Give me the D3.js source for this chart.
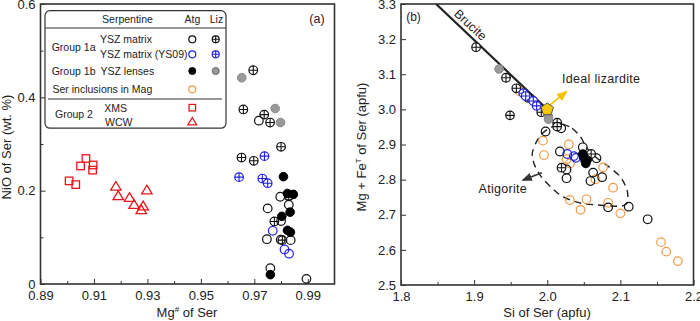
<!DOCTYPE html>
<html><head><meta charset="utf-8">
<script src="https://cdn.jsdelivr.net/npm/d3@7"></script>
<style>
body{margin:0;background:#fff;}
svg{font-family:"Liberation Sans",Arial,sans-serif;}
</style></head>
<body><svg id="c" width="700" height="321"></svg>
<script>
// ---------- Panel (a) data : [Mg#, NiO] ----------
const aAtgMatrix = [[0.9717,0.350],[0.9797,0.187],[0.9829,0.188],[0.9829,0.170],[0.9750,0.162],[0.9800,0.135],[0.9747,0.096],[0.9799,0.095],[0.9836,0.094],[0.9760,0.034],[0.9895,0.011]];
const aAtgYS09 = [[0.9769,0.114],[0.9813,0.074],[0.9830,0.065]];
const aAtgLenses = [[0.9809,0.230],[0.9846,0.192],[0.9824,0.194],[0.9834,0.154],[0.9803,0.145],[0.9824,0.115],[0.9835,0.111],[0.9760,0.020]];
const aLizMatrix = [[0.9696,0.458],[0.9659,0.374],[0.9737,0.363],[0.9759,0.346],[0.9800,0.294],[0.9652,0.271],[0.9698,0.264],[0.9775,0.134],[0.9805,0.094],[0.9829,0.189]];
const aLizYS09 = [[0.9643,0.229],[0.9738,0.274],[0.9730,0.226],[0.9750,0.216]];
const aLizLenses = [[0.9653,0.442],[0.9778,0.376],[0.9798,0.346]];
const aXMS = [[0.9007,0.221],[0.9032,0.213],[0.9050,0.253],[0.9070,0.269],[0.9097,0.255],[0.9095,0.244]];
const aWCW = [[0.9182,0.209],[0.9191,0.189],[0.9233,0.185],[0.9250,0.170],[0.9277,0.159],[0.9284,0.167],[0.9298,0.201]];

// ---------- Panel (b) data : [Si, Mg+FeT] ----------
const bAtgMatrix = [[1.9977,2.937],[2.0191,2.946],[2.0173,2.880],[2.0486,2.892],[2.0673,2.861],[2.0264,2.829],[2.0264,2.804],[2.0627,2.820],[2.0591,2.796],[2.0750,2.807],[2.0832,2.721],[2.1114,2.723],[2.1373,2.687]];
const bAtgYS09 = [[2.0273,2.873],[2.0364,2.867],[2.0391,2.862]];
const bAtgLenses = [[2.0486,2.873],[2.0500,2.864],[2.0518,2.854],[2.0527,2.846],[2.0545,2.856]];
const bLizMatrix = [[1.9027,3.177],[1.9436,3.090],[1.9577,3.060],[1.9736,3.033],[1.9918,2.992],[1.9491,2.983],[2.0136,2.962],[2.0136,2.951],[2.0195,2.834],[2.0600,2.873]];
const bLizYS09 = [[1.9673,3.046],[1.9705,3.038],[1.9809,3.024],[1.9855,3.010]];
const bLizLenses = [[1.9341,3.115],[2.0014,2.981],[2.0018,2.972]];
const bInclMag = [[1.9618,3.052],[1.9941,2.911],[1.9955,2.870],[2.0295,2.900],[2.0309,2.846],[2.0264,2.858],[2.0764,2.835],[2.0659,2.801],[2.0900,2.777],[2.0309,2.742],[2.0536,2.744],[2.0455,2.714],[2.0832,2.734],[2.1000,2.704],[2.1555,2.622],[2.1627,2.595],[2.1786,2.568]];
const idealLizardite = [2.0, 3.0];
const bruciteLine = [[1.848,3.3],[2.0,3.0]];
const atgField = [[2.0191,2.958],[2.0341,2.946],[2.0455,2.922],[2.0545,2.889],[2.0682,2.861],[2.0841,2.837],[2.1000,2.808],[2.1091,2.771],[2.1100,2.737],[2.1023,2.725],[2.0864,2.725],[2.0682,2.728],[2.0500,2.731],[2.0341,2.740],[2.0205,2.752],[2.0068,2.775],[1.9955,2.799],[1.9886,2.818],[1.9818,2.846],[1.9795,2.875],[1.9841,2.903],[1.9909,2.927],[2.0023,2.946]];

// tick values
const aXTicksMajor = [0.89,0.91,0.93,0.95,0.97,0.99];
const aXTicksMinor = [0.90,0.92,0.94,0.96,0.98];
const aYTicksMajor = [0,0.2,0.4,0.6];
const aYTicksMinor = [0.1,0.3,0.5];
const bXTicksMajor = [1.8,1.9,2.0,2.1,2.2];
const bXTicksMinor = [1.85,1.95,2.05,2.15];
const bYTicksMajor = [2.5,2.6,2.7,2.8,2.9,3.0,3.1,3.2,3.3];

const svg = d3.select("#c");
const AX = "#333";
const C = {black:"#111", blue:"#1f1fe8", gray:"#999", orange:"#f39a45", red:"#e8161c"};
const R = 4.3;

// scales
const xA = d3.scaleLinear().domain([0.89,1.0]).range([40.5,334.5]);
const yA = d3.scaleLinear().domain([0,0.6]).range([284,4]);
const xB = d3.scaleLinear().domain([1.8,2.2]).range([401,693.5]);
const yB = d3.scaleLinear().domain([2.5,3.3]).range([285,4]);

function axes(x, y, xMaj, xMin, yMaj, yMin, xFmt, yFmt){
  const g = svg.append("g");
  const [x0,x1] = x.range(), [y0,y1] = y.range();
  g.append("g").attr("transform",`translate(0,${y0})`)
    .call(d3.axisBottom(x).tickValues(xMin).tickFormat("").tickSizeInner(-3).tickSizeOuter(0));
  g.append("g").attr("transform",`translate(0,${y0})`)
    .call(d3.axisBottom(x).tickValues(xMaj).tickFormat(xFmt).tickSizeInner(-5).tickSizeOuter(0).tickPadding(7));
  if (yMin.length) g.append("g").attr("transform",`translate(${x0},0)`)
    .call(d3.axisLeft(y).tickValues(yMin).tickFormat("").tickSizeInner(-3).tickSizeOuter(0));
  g.append("g").attr("transform",`translate(${x0},0)`)
    .call(d3.axisLeft(y).tickValues(yMaj).tickFormat(yFmt).tickSizeInner(-5).tickSizeOuter(0).tickPadding(5));
  g.selectAll(".domain").remove();
  g.selectAll(".tick line").attr("stroke",AX).attr("stroke-width",1);
  g.selectAll(".tick text").attr("font-size",13).attr("fill","#222").attr("font-family","Liberation Sans, Arial, sans-serif");
  svg.append("rect").attr("x",x0).attr("y",y1).attr("width",x1-x0).attr("height",y0-y1)
    .attr("fill","none").attr("stroke",AX).attr("stroke-width",1.6);
}

function openC(g, pts, x, y, col, r=R){
  g.selectAll(null).data(pts).join("circle").attr("cx",d=>x(d[0])).attr("cy",d=>y(d[1])).attr("r",r)
    .attr("fill","#fff").attr("fill-opacity",0).attr("stroke",col).attr("stroke-width",1.2);
}
function filledC(g, pts, x, y, fill, stroke, r=R){
  g.selectAll(null).data(pts).join("circle").attr("cx",d=>x(d[0])).attr("cy",d=>y(d[1])).attr("r",r)
    .attr("fill",fill).attr("stroke",stroke).attr("stroke-width",1);
}
function crossC(g, pts, x, y, col, r=R){
  const s = g.selectAll(null).data(pts).join("g").attr("transform",d=>`translate(${x(d[0])},${y(d[1])})`);
  s.append("circle").attr("r",r).attr("fill","#fff").attr("stroke",col).attr("stroke-width",1.2);
  s.append("path").attr("d",`M${-r},0H${r}M0,${-r}V${r}`).attr("stroke",col).attr("stroke-width",1.1);
}
function squares(g, pts, x, y, col, s=7.5){
  g.selectAll(null).data(pts).join("rect").attr("x",d=>x(d[0])-s/2).attr("y",d=>y(d[1])-s/2)
    .attr("width",s).attr("height",s).attr("fill","none").attr("stroke",col).attr("stroke-width",1.3);
}
function triangles(g, pts, x, y, col, s=5){
  g.selectAll(null).data(pts).join("path")
    .attr("d",d=>{const cx=x(d[0]), cy=y(d[1]); return `M${cx},${cy-s}L${cx+s*1.05},${cy+s*0.75}L${cx-s*1.05},${cy+s*0.75}Z`;})
    .attr("fill","none").attr("stroke",col).attr("stroke-width",1.3);
}

// ================= Panel (a) =================
axes(xA,yA,aXTicksMajor,aXTicksMinor,aYTicksMajor,aYTicksMinor,d3.format(".2f"),d=>d===0?"0":d3.format(".1f")(d));
const ga = svg.append("g");
squares(ga,aXMS,xA,yA,C.red);
triangles(ga,aWCW,xA,yA,C.red);
filledC(ga,aLizLenses,xA,yA,C.gray,"#888");
crossC(ga,aLizMatrix,xA,yA,C.black);
crossC(ga,aLizYS09,xA,yA,C.blue);
openC(ga,aAtgMatrix,xA,yA,C.black);
openC(ga,aAtgYS09,xA,yA,C.blue);
filledC(ga,aAtgLenses,xA,yA,"#000","#000");

svg.append("text").attr("x",317).attr("y",23).attr("text-anchor","middle").attr("font-size",12.5).attr("fill","#222").text("(a)");
// axis titles
const tA = svg.append("text").attr("x",187).attr("y",317).attr("text-anchor","middle").attr("font-size",13).attr("fill","#222");
tA.append("tspan").text("Mg");
tA.append("tspan").attr("font-size",8).attr("dy",-5).text("#");
tA.append("tspan").attr("dy",5).text(" of Ser");
svg.append("text").attr("transform","translate(11,147) rotate(-90)").attr("text-anchor","middle").attr("font-size",13).attr("fill","#222").text("NiO of Ser (wt. %)");

// legend
const lg = svg.append("g");
lg.append("rect").attr("x",45).attr("y",10.7).attr("width",181).attr("height",117.5).attr("rx",5)
  .attr("fill","#fff").attr("stroke",AX).attr("stroke-width",1.2);
lg.append("line").attr("x1",45).attr("x2",226).attr("y1",28).attr("y2",28).attr("stroke",AX).attr("stroke-width",1.1);
lg.append("line").attr("x1",48).attr("x2",222).attr("y1",99).attr("y2",99).attr("stroke",AX).attr("stroke-width",1.1);
const legTexts = [
  ["Serpentine",127.5,19,"middle"],["Atg",192.5,19,"middle"],["Liz",216.5,19,"middle"],
  ["Group 1a",51.7,46.7,"start"],["YSZ matrix",100,39.5,"start"],["YSZ matrix (YS09)",100,54.3,"start"],
  ["Group 1b",51.7,71,"start"],["YSZ lenses",100.5,71,"start"],["Ser inclusions in Mag",52.5,89,"start"],
  ["XMS",104.3,107.7,"start"],["Group 2",55,114.3,"start"],["WCW",105,121.7,"start"]];
lg.selectAll(null).data(legTexts).join("text").attr("x",d=>d[1]).attr("y",d=>d[2]+3.8).attr("text-anchor",d=>d[3])
  .attr("font-size",10.5).attr("fill","#222").text(d=>d[0]);
const lr = 3.5;
const lx = d3.scaleLinear().domain([0,1]).range([0,1]); // identity helpers for legend glyphs
const ly = lx;
openC(lg,[[192.3,39.3]],lx,ly,C.black,lr);
crossC(lg,[[215.7,39.3]],lx,ly,C.black,lr);
openC(lg,[[192.3,54.3]],lx,ly,C.blue,lr);
crossC(lg,[[215.7,54.3]],lx,ly,C.blue,lr);
filledC(lg,[[192.3,71]],lx,ly,"#000","#000",lr);
filledC(lg,[[215.7,71]],lx,ly,C.gray,"#666",lr);
openC(lg,[[192.3,89.3]],lx,ly,C.orange,lr);
squares(lg,[[192.3,107.7]],lx,ly,C.red,6.5);
triangles(lg,[[192.3,121.7]],lx,ly,C.red,4.2);

// ================= Panel (b) =================
axes(xB,yB,bXTicksMajor,bXTicksMinor,bYTicksMajor,[],d3.format(".1f"),d3.format(".1f"));
const gb = svg.append("g");
svg.append("clipPath").attr("id","clipB").append("rect").attr("x",401).attr("y",4).attr("width",292.5).attr("height",281);
gb.append("path").attr("clip-path","url(#clipB)").attr("d",d3.line().x(d=>xB(d[0])).y(d=>yB(d[1]))(bruciteLine))
  .attr("stroke","#222").attr("stroke-width",2.2).attr("fill","none");
gb.append("path").attr("d",d3.line().x(d=>xB(d[0])).y(d=>yB(d[1])).curve(d3.curveCardinalClosed.tension(0.3))(atgField))
  .attr("fill","none").attr("stroke","#222").attr("stroke-width",1.4).attr("stroke-dasharray","7,5");

openC(gb,bInclMag,xB,yB,C.orange);
openC(gb,bAtgMatrix,xB,yB,C.black);
crossC(gb,bLizMatrix,xB,yB,C.black);
filledC(gb,bLizLenses,xB,yB,C.gray,"#888");
crossC(gb,bLizYS09,xB,yB,C.blue);
openC(gb,bAtgYS09,xB,yB,C.blue);
filledC(gb,bAtgLenses,xB,yB,"#000","#000");

// ideal lizardite pentagon + arrow
const defs = svg.append("defs");
function marker(id,col){
  defs.append("marker").attr("id",id).attr("viewBox","0 0 10 10").attr("refX",8).attr("refY",5)
    .attr("markerWidth",7).attr("markerHeight",7).attr("orient","auto")
    .append("path").attr("d","M0,1L10,5L0,9Z").attr("fill",col);
}
marker("mGold","#f2c200"); marker("mDark","#333");
const lizArrow = [[2.0039,3.0125],[2.0258,3.0495]];
gb.append("line").attr("x1",xB(lizArrow[0][0])).attr("y1",yB(lizArrow[0][1])).attr("x2",xB(lizArrow[1][0])).attr("y2",yB(lizArrow[1][1]))
  .attr("stroke","#f2c200").attr("stroke-width",1.6).attr("marker-end","url(#mGold)");
const pr = 6.5;
const pent = d3.range(5).map(i=>{const a=-Math.PI/2+i*2*Math.PI/5; return [xB(idealLizardite[0])+pr*Math.cos(a), yB(idealLizardite[1])+pr*Math.sin(a)];});
gb.append("path").attr("d","M"+pent.join("L")+"Z").attr("fill","#f7c800").attr("stroke","#555").attr("stroke-width",1);

const atgArrow = [[1.9925,2.8197],[1.9673,2.799]];
gb.append("line").attr("x1",xB(atgArrow[0][0])).attr("y1",yB(atgArrow[0][1])).attr("x2",xB(atgArrow[1][0])).attr("y2",yB(atgArrow[1][1]))
  .attr("stroke","#333").attr("stroke-width",1.5).attr("marker-end","url(#mDark)");

gb.append("text").attr("x",xB(2.0203)).attr("y",yB(3.0749)).attr("font-size",12.5).attr("fill","#222").attr("letter-spacing",0.3).text("Ideal lizardite");
gb.append("text").attr("x",xB(1.9392)).attr("y",yB(2.7628)).attr("text-anchor","middle").attr("font-size",12.5).attr("fill","#222").attr("letter-spacing",0.3).text("Atigorite");
gb.append("text").attr("transform",`translate(${xB(1.8948)},${yB(3.2402)}) rotate(42.8)`).attr("text-anchor","middle")
  .attr("font-size",12.5).attr("fill","#222").attr("dy",4).text("Brucite");
svg.append("text").attr("x",413.5).attr("y",21).attr("text-anchor","middle").attr("font-size",12).attr("fill","#222").text("(b)");

svg.append("text").attr("x",547).attr("y",317).attr("text-anchor","middle").attr("font-size",13).attr("fill","#222").text("Si of Ser (apfu)");
const tB = svg.append("text").attr("transform","translate(366,147) rotate(-90)").attr("text-anchor","middle").attr("font-size",13).attr("fill","#222");
tB.append("tspan").text("Mg + Fe");
tB.append("tspan").attr("font-size",8).attr("dy",-5).text("T");
tB.append("tspan").attr("dy",5).text(" of Ser (apfu)");
</script></body></html>
